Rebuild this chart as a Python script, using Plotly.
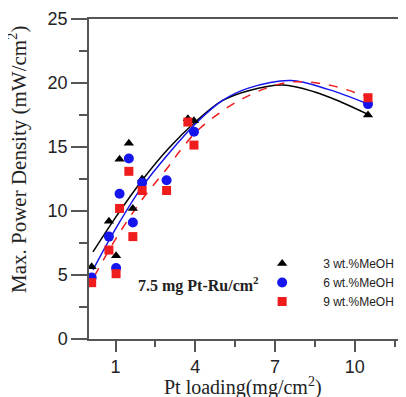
import plotly.graph_objects as go

# ---- scatter data (Pt loading mg/cm2, max power density mW/cm2) ----
x_3wt = [0.1, 0.75, 1.02, 1.15, 1.5, 1.65, 2.0, 3.72, 3.95, 10.5]
y_3wt = [5.65, 9.2, 6.5, 14.05, 15.3, 10.2, 12.5, 17.2, 17.05, 17.5]

x_6wt = [0.1, 0.75, 1.02, 1.15, 1.5, 1.65, 2.0, 2.92, 3.95, 10.5]
y_6wt = [4.8, 8.0, 5.55, 11.35, 14.1, 9.1, 12.2, 12.4, 16.2, 18.35]

x_9wt = [0.1, 0.75, 1.02, 1.15, 1.5, 1.65, 2.0, 2.92, 3.72, 3.95, 10.5]
y_9wt = [4.4, 6.95, 5.1, 10.2, 13.1, 8.0, 11.6, 11.6, 16.95, 15.15, 18.85]

# ---- fitted curves ----
fx_3wt = [0.15, 1.0, 2.0, 3.0, 4.0, 5.0, 6.0, 7.3, 8.5, 9.5, 10.5]
fy_3wt = [6.8, 9.5, 12.4, 14.9, 16.95, 18.6, 19.4, 19.84, 19.3, 18.5, 17.55]

fx_6wt = [0.15, 1.0, 2.0, 3.0, 4.0, 5.0, 6.0, 7.6, 9.0, 10.45]
fy_6wt = [5.4, 8.6, 11.9, 14.5, 16.8, 18.6, 19.6, 20.2, 19.5, 18.4]

fx_9wt = [0.2, 1.0, 2.0, 3.0, 3.5, 4.2, 5.8, 7.5, 9.0, 10.5]
fy_9wt = [4.9, 7.8, 10.9, 13.5, 14.9, 16.5, 18.8, 20.05, 19.85, 18.9]

names = ["3 wt.%MeOH", "6 wt.%MeOH", "9 wt.%MeOH"]
colors = ["#000000", "#1515ee", "#ee1c1c"]
symbols = ["triangle-up", "circle", "square"]
msizes = [9, 10, 9]
dashes = ["solid", "solid", "dash"]

x_ticks = [1, 4, 7, 10]
y_ticks = [0, 5, 10, 15, 20, 25]

# page geometry (the page body adds an 8 px offset)
PW = 317.0   # plot width in px
PH = 320.0   # plot height in px
def px(page_x):
    return (page_x - 89) / PW
def py(page_y):
    return (339 - page_y) / PH

fig = go.Figure()

for fx, fy, c, d in zip([fx_3wt, fx_6wt, fx_9wt], [fy_3wt, fy_6wt, fy_9wt], colors, dashes):
    fig.add_trace(go.Scatter(x=fx, y=fy, mode="lines", line=dict(color=c, width=1.5, dash=d, shape="spline"),
                             showlegend=False, hoverinfo="skip"))

for xs, ys, n, c, s, ms in zip([x_3wt, x_6wt, x_9wt], [y_3wt, y_6wt, y_9wt], names, colors, symbols, msizes):
    fig.add_trace(go.Scatter(x=xs, y=ys, mode="markers", name=n,
                             marker=dict(color=c, symbol=s, size=ms, line=dict(width=0))))

axis_col = "#555555"
txt_col = "#222222"
fig.update_layout(
    width=398, height=397,
    margin=dict(l=81, r=0, t=11, b=66),
    plot_bgcolor="white", paper_bgcolor="white",
    font=dict(family="Liberation Sans, Arial", color=txt_col),
    xaxis=dict(range=[0, 11.93], tickmode="array", tickvals=x_ticks, ticktext=[str(v) for v in x_ticks],
               showgrid=False, zeroline=False, showline=True, linecolor=axis_col, linewidth=1.5, mirror=True,
               ticks="outside", ticklen=11, tickwidth=1.5, tickcolor=axis_col,
               tickfont=dict(size=18, family="Liberation Sans, Arial", color=txt_col),
               minor=dict(tickmode="linear", tick0=1, dtick=1.5, ticks="outside", ticklen=6, tickwidth=1.5, tickcolor=axis_col)),
    yaxis=dict(range=[0, 25], tickmode="array", tickvals=y_ticks,
               showgrid=False, zeroline=False, showline=True, linecolor=axis_col, linewidth=1.5, mirror=False,
               ticks="outside", ticklen=16, tickwidth=1.5, tickcolor=axis_col,
               tickfont=dict(size=18, family="Liberation Sans, Arial", color=txt_col),
               minor=dict(tickmode="linear", tick0=0, dtick=2.5, ticks="outside", ticklen=8, tickwidth=1.5, tickcolor=axis_col)),
    legend=dict(x=0.48, y=0.281, xanchor="left", yanchor="top", bgcolor="rgba(0,0,0,0)",
                itemwidth=72, font=dict(size=12, family="Liberation Sans, Arial", color=txt_col),
                tracegroupgap=0),
    annotations=[
        dict(text="<b>7.5 mg Pt-Ru/cm<sup>2</sup></b>", x=px(198), y=py(284),
             xref="paper", yref="paper", showarrow=False, xanchor="center", yanchor="middle",
             font=dict(family="Liberation Serif, Times New Roman", size=16, color=txt_col)),
        dict(text="Pt loading(mg/cm<sup>2</sup>)", x=px(243), y=py(386), xref="paper", yref="paper",
             showarrow=False, xanchor="center", yanchor="middle",
             font=dict(family="Liberation Serif, Times New Roman", size=20, color=txt_col)),
        dict(text="Max. Power Density (mW/cm<sup>2</sup>)", x=px(17), y=py(160),
             xref="paper", yref="paper", showarrow=False, xanchor="center", yanchor="middle", textangle=-90,
             font=dict(family="Liberation Serif, Times New Roman", size=21, color=txt_col)),
    ],
)

fig.write_html("out.html")
